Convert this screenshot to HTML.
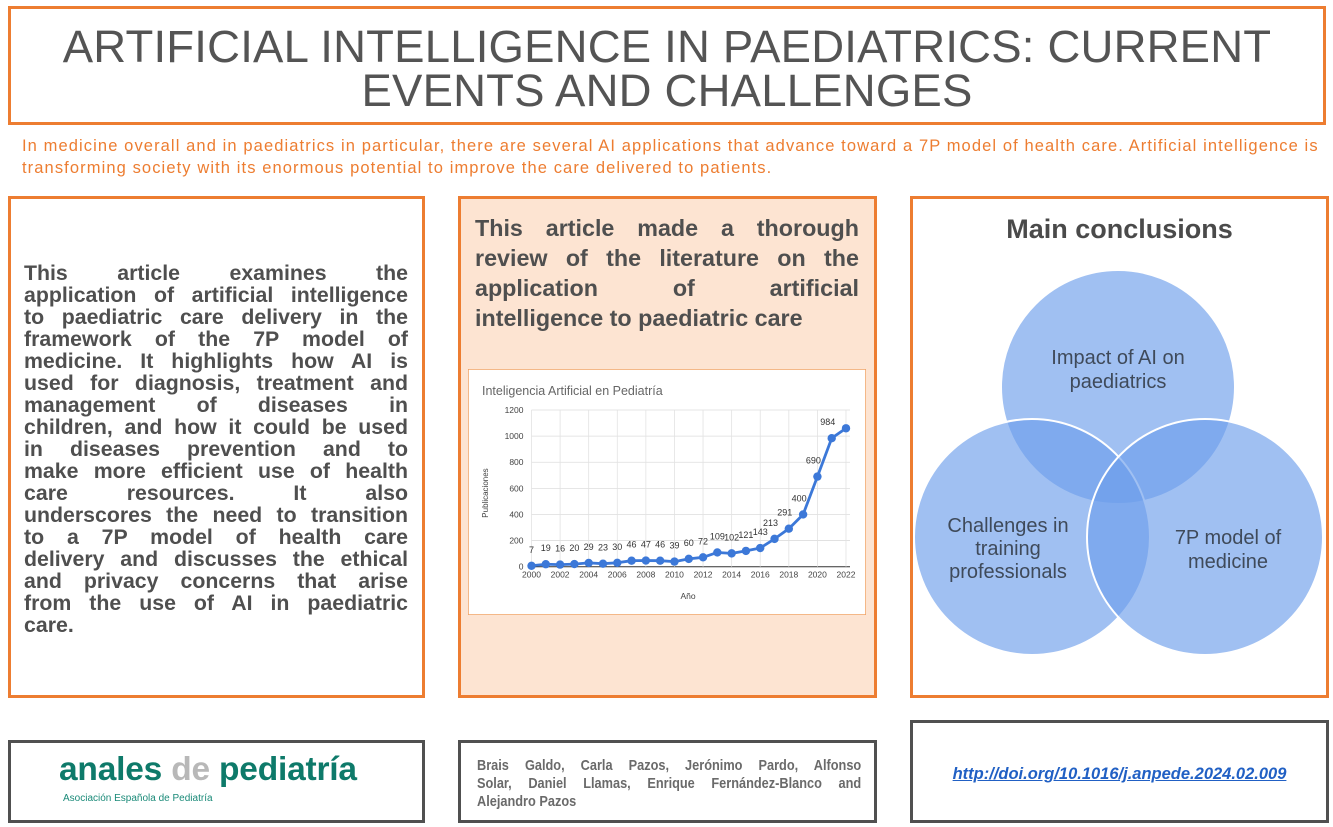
<!DOCTYPE html>
<html><head><meta charset="utf-8">
<style>
*{margin:0;padding:0;box-sizing:border-box}
body{width:1333px;height:827px;background:#fff;position:relative;overflow:hidden;font-family:"Liberation Sans",Arial,sans-serif}
.box{position:absolute;border:3px solid #ed7d31}
.gbox{position:absolute;border:3px solid #505050;background:#fff}
.title{position:absolute;left:8px;top:6px;width:1318px;height:119px;text-align:center;color:#545454;font-size:45.5px;line-height:44px;padding-top:16px;letter-spacing:0.2px}
.sub{position:absolute;left:22px;top:135px;width:1300px;color:#ed7d31;font-size:16.5px;line-height:22px;letter-spacing:1.1px;white-space:nowrap}
.jl{display:block;text-align:justify;text-align-last:justify;white-space:nowrap}
.last{text-align-last:left}
#lefttext{position:absolute;left:24px;top:262px;width:384px;font-weight:bold;color:#4f4f4f;font-size:21.3px;line-height:22px}
#midtext{position:absolute;left:475px;top:213px;width:384px;font-weight:bold;color:#4f4f4f;font-size:23.3px;line-height:30px}
</style></head><body>
<div class="box title">ARTIFICIAL INTELLIGENCE IN PAEDIATRICS: CURRENT<br>EVENTS AND CHALLENGES</div>
<div class="sub">In medicine overall and in paediatrics in particular, there are several AI applications that advance toward a 7P model of health care. Artificial intelligence is<br>transforming society with its enormous potential to improve the care delivered to patients.</div>

<div class="box" style="left:8px;top:196px;width:417px;height:502px"></div>
<div id="lefttext">
<span class="jl">This article examines the</span>
<span class="jl">application of artificial intelligence</span>
<span class="jl">to paediatric care delivery in the</span>
<span class="jl">framework of the 7P model of</span>
<span class="jl">medicine. It highlights how AI is</span>
<span class="jl">used for diagnosis, treatment and</span>
<span class="jl">management of diseases in</span>
<span class="jl">children, and how it could be used</span>
<span class="jl">in diseases prevention and to</span>
<span class="jl">make more efficient use of health</span>
<span class="jl">care resources. It also</span>
<span class="jl">underscores the need to transition</span>
<span class="jl">to a 7P model of health care</span>
<span class="jl">delivery and discusses the ethical</span>
<span class="jl">and privacy concerns that arise</span>
<span class="jl">from the use of AI in paediatric</span>
<span class="jl last">care.</span>
</div>

<div class="box" style="left:458px;top:196px;width:419px;height:502px;background:#fde4d2"></div>
<div id="midtext">
<span class="jl">This article made a thorough</span>
<span class="jl">review of the literature on the</span>
<span class="jl">application of artificial</span>
<span class="jl last">intelligence to paediatric care</span>
</div>

<svg id="chart" style="position:absolute;left:468px;top:369px" width="398" height="246">
<rect x="0" y="0" width="398" height="246" fill="#fff" stroke="#f0a060" stroke-width="1.5"/>
<text x="14" y="26" font-size="12.5" fill="#666" font-family="Liberation Sans, sans-serif">Inteligencia Artificial en Pediatría</text>
<g id="grid"></g><g id="axes"></g><g id="marks"></g>
<text x="220" y="230" font-size="8.5" fill="#444" text-anchor="middle" font-family="Liberation Sans, sans-serif">Año</text>
<text transform="translate(20,124) rotate(-90)" font-size="8" fill="#444" text-anchor="middle" font-family="Liberation Sans, sans-serif">Publicaciones</text>
</svg>

<div class="box" style="left:910px;top:196px;width:419px;height:502px"></div>
<div style="position:absolute;left:910px;top:214px;width:419px;text-align:center;font-weight:bold;font-size:27px;color:#4a4a4a">Main conclusions</div>
<svg style="position:absolute;left:910px;top:196px" width="419" height="502">
<g fill="#6d9eeb" fill-opacity="0.65" stroke="#fff" stroke-width="2">
<circle cx="208" cy="191" r="117"/>
<circle cx="122" cy="341" r="118"/>
<circle cx="295" cy="341" r="118"/>
</g>
<g font-family="Liberation Sans, sans-serif" font-size="20" fill="#3f4a5a" text-anchor="middle">
<text x="208" y="168"><tspan x="208">Impact of AI on</tspan><tspan x="208" dy="24">paediatrics</tspan></text>
<text x="98" y="336"><tspan x="98">Challenges in</tspan><tspan x="98" dy="23">training</tspan><tspan x="98" dy="23">professionals</tspan></text>
<text x="318" y="348"><tspan x="318">7P model of</tspan><tspan x="318" dy="24">medicine</tspan></text>
</g>
</svg>

<div class="gbox" style="left:8px;top:740px;width:417px;height:83px">
<div style="position:absolute;left:48px;top:8px;font-weight:bold;font-size:33.5px;color:#0e7a6a;letter-spacing:-0.2px">anales <span style="color:#b8b8b8">de</span> pediatría</div>
<div style="position:absolute;left:52px;top:50px;font-size:10px;color:#1a8a78">Asociación Española de Pediatría</div>
</div>
<div class="gbox" style="left:458px;top:740px;width:419px;height:83px">
<div style="position:absolute;left:16px;top:14px;width:452px;transform:scaleX(0.85);transform-origin:0 0;font-weight:bold;font-size:15px;line-height:18px;color:#6a6a6a">
<span class="jl">Brais Galdo, Carla Pazos, Jerónimo Pardo, Alfonso</span>
<span class="jl">Solar, Daniel Llamas, Enrique Fernández-Blanco and</span>
<span class="jl last">Alejandro Pazos</span>
</div>
</div>
<div class="gbox" style="left:910px;top:720px;width:419px;height:103px">
<div style="position:absolute;left:0;top:42px;width:413px;text-align:center;font-weight:bold;font-style:italic;font-size:16.5px;color:#2160c4;text-decoration:underline">http://doi.org/10.1016/j.anpede.2024.02.009</div>
</div>

<script>
const years = [2000,2001,2002,2003,2004,2005,2006,2007,2008,2009,2010,2011,2012,2013,2014,2015,2016,2017,2018,2019,2020,2021,2022];
const pubs = [7,19,16,20,29,23,30,46,47,46,39,60,72,109,102,121,143,213,291,400,690,984,1060];
const valueLabels = ["7","19","16","20","29","23","30","46","47","46","39","60","72","109","102","121","143","213","291","400","690","984",""];
const yTicks = [0,200,400,600,800,1000,1200];
const xTickYears = [2000,2002,2004,2006,2008,2010,2012,2014,2016,2018,2020,2022];
const NS='http://www.w3.org/2000/svg';
const x0=63.5,x1=378,y0=197.7,y1=41;
const sx=v=>x0+(v-2000)/(2022-2000)*(x1-x0);
const sy=v=>y0-v/1200*(y0-y1);
function mk(tag,attrs,parent,txt){const e=document.createElementNS(NS,tag);for(const k in attrs)e.setAttribute(k,attrs[k]);if(txt!==undefined)e.textContent=txt;parent.appendChild(e);return e;}
const grid=document.getElementById('grid'),axes=document.getElementById('axes'),marks=document.getElementById('marks');
yTicks.forEach(t=>{
  const l=mk('line',{x1:x0,x2:x1+4,y1:sy(t),y2:sy(t),stroke:t===0?'#333':'#ddd','stroke-width':t===0?1:0.8},grid);
  
  
  const tx=mk('text',{x:x0-8,y:sy(t)+3,'font-size':8.5,fill:'#444','text-anchor':'end','font-family':'Liberation Sans, sans-serif'},axes,String(t));
  
  
});
xTickYears.forEach(yr=>{
  const l=mk('line',{x1:sx(yr),x2:sx(yr),y1:y1,y2:y0,stroke:'#e2e2e2','stroke-width':0.8},grid);
  
  
  const tx=mk('text',{x:sx(yr),y:y0+11,'font-size':8.5,fill:'#444','text-anchor':'middle','font-family':'Liberation Sans, sans-serif'},axes,String(yr));
  
  
});
const pts=years.map((yr,i)=>sx(yr)+','+sy(pubs[i])).join(' ');
const line=mk('polyline',{points:pts,fill:'none',stroke:'#3c78d8','stroke-width':2.8,'stroke-linejoin':'round'},marks);


years.forEach((yr,i)=>{
  const c=mk('circle',{cx:sx(yr),cy:sy(pubs[i]),r:4.2,fill:'#3c78d8'},marks);
  
  
  if(valueLabels[i]){
    const t=mk('text',{x:sx(yr)-(i>=17?4:0),y:sy(pubs[i])-13,'font-size':9,fill:'#333','text-anchor':'middle','font-family':'Liberation Sans, sans-serif'},marks,valueLabels[i]);
    
    
  }
});
</script>
</body></html>
